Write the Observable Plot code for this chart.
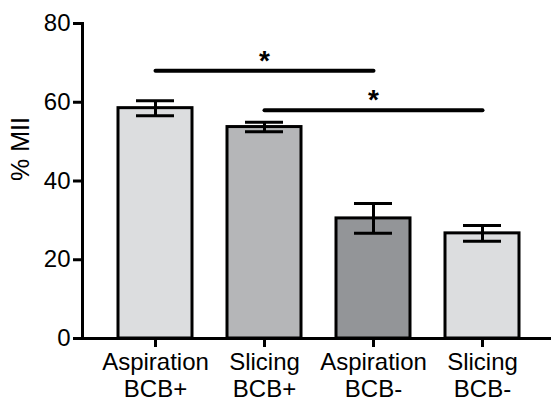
<!DOCTYPE html>
<html>
<head>
<meta charset="utf-8">
<script src="https://cdn.jsdelivr.net/npm/d3@7"></script>
<script src="https://cdn.jsdelivr.net/npm/@observablehq/plot@0.6"></script>
<style>
  html, body { margin: 0; padding: 0; background: #fff; }
  #chart svg { display: block; }
</style>
</head>
<body>
<div id="chart"></div>
<script>
const groups = ["Aspiration\nBCB+", "Slicing\nBCB+", "Aspiration\nBCB-", "Slicing\nBCB-"];
const means = [58.5, 53.7, 30.5, 26.7];
const sems = [1.9, 1.2, 3.8, 2.0];
const fills = ["#dcdddf", "#b5b6b8", "#939598", "#dcdddf"];
const yTicks = [0, 20, 40, 60, 80];
const yLabel = "% MII";
const bracketFrom = [groups[0], groups[1]];
const bracketTo = [groups[2], groups[3]];
const bracketY = [68, 58];
const starAt = [groups[1], groups[2]];
const starLabel = ["*", "*"];

const data = groups.map((g, i) => ({g, mean: means[i], lo: means[i] - sems[i], hi: means[i] + sems[i], fill: fills[i]}));
const bracketPts = bracketY.flatMap((y, i) => [
  {pair: i, g: bracketFrom[i], y},
  {pair: i, g: bracketTo[i], y}
]);
const stars = bracketY.map((y, i) => ({g: starAt[i], y, t: starLabel[i]}));

const chart = Plot.plot({
  width: 551,
  height: 402,
  marginLeft: 82,
  marginRight: 0,
  marginTop: 23,
  marginBottom: 64,
  style: {fontFamily: "'Liberation Sans', Arial, sans-serif", fontSize: "24px", color: "#000", background: "#fff"},
  x: {domain: groups, range: [118, 520], paddingInner: 0.32, paddingOuter: 0, axis: null},
  y: {domain: [0, 80], axis: null},
  marks: [
    Plot.barY(data, {x: "g", y: "mean", fill: "fill", stroke: "#000", strokeWidth: 3}),
    Plot.ruleX(data, {x: "g", y1: "lo", y2: "hi", stroke: "#000", strokeWidth: 3}),
    Plot.tickY(data, {x: "g", y: "lo", stroke: "#000", strokeWidth: 3, insetLeft: 18, insetRight: 18}),
    Plot.tickY(data, {x: "g", y: "hi", stroke: "#000", strokeWidth: 3, insetLeft: 18, insetRight: 18}),
    Plot.line(bracketPts, {x: "g", y: "y", z: "pair", stroke: "#000", strokeWidth: 4, strokeLinecap: "round"}),
    Plot.text(stars, {x: "g", y: "y", text: "t", fontSize: 28, fontWeight: "bold", lineAnchor: "bottom", dy: -1}),
    Plot.ruleY([0], {stroke: "#000", strokeWidth: 3}),
    Plot.frame({anchor: "left", stroke: "#000", strokeWidth: 3}),
    Plot.axisY({ticks: yTicks, tickSize: 9, tickPadding: 3, strokeWidth: 3, fontSize: 24, label: null}),
    Plot.text([yLabel], {frameAnchor: "left", rotate: -90, dx: -62, fontSize: 25}),
    Plot.axisX({tickSize: 9, tickPadding: 4, strokeWidth: 3, fontSize: 24, lineHeight: 1.1, label: null})
  ]
});
document.getElementById("chart").appendChild(chart);
</script>
</body>
</html>
